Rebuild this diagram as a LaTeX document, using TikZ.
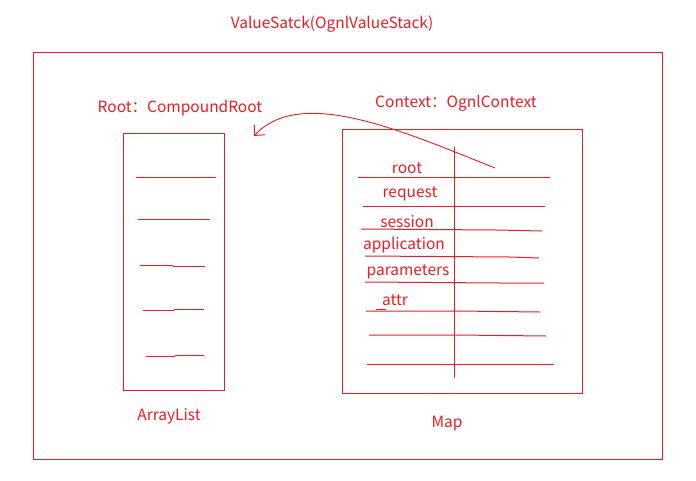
\documentclass[tikz,border=0pt]{standalone}
\usepackage{fontspec}
\setmainfont{Noto Sans CJK SC}
\usetikzlibrary{arrows.meta}
\definecolor{pred}{RGB}{237,28,36}
\begin{document}
\begin{tikzpicture}[x=1pt,y=-1pt,
  every node/.style={text=pred,font=\fontsize{15.5}{18}\selectfont,inner sep=0pt},
  frame/.style={draw=pred,line width=1pt},
  rowline/.style={draw=pred,line width=1pt},
  lbl/.style={anchor=center,yshift=-2pt}]
\useasboundingbox (0,0) rectangle (696,480);
% outer frame
\draw[frame] (33,52) rectangle (662,459);
\node[lbl] (title) at (332,22) {ValueSatck(OgnlValueStack)};
% left box
\draw[frame] (123,133) rectangle (224,390);
\node[lbl] (rootlbl) at (180,106) {Root：CompoundRoot};
\node[lbl] (arr) at (169,414) {ArrayList};
\draw[rowline] (136,177) -- (216,177);
\draw[rowline] (138,219) -- (210,219);
\draw[rowline] (140,265) -- (173,265) (173,266) -- (205,266);
\draw[rowline] (143,310) -- (174,310) (174,309) -- (204,309);
\draw[rowline] (146,356) -- (175,356) (175,355) -- (204,355);
% right box
\draw[frame] (342,129) rectangle (582,393);
\node[lbl] (ctxlbl) at (456,101) {Context：OgnlContext};
\node[lbl] (map) at (447,422) {Map};
\draw[rowline] (454,147) -- (454,378);
\node[lbl] (kroot) at (407,166) {root};
\node[lbl] (kreq) at (410,192) {request};
\node[lbl] (kses) at (407,220) {session};
\node[lbl] (kapp) at (404,243) {application};
\node[lbl] (kpar) at (408,270) {parameters};
\node[lbl] (kattr) at (395,298) {attr};
\draw[rowline] (358,177) -- (550,177);
\draw[rowline] (363,206) -- (545,206);
\draw[rowline] (361,229) -- (497,230) -- (542,231);
\draw[rowline] (365,256) -- (510,257) -- (539,258);
\draw[rowline] (365,282) -- (500,283) -- (544,283);
\draw[rowline] (366,311) -- (457,311) -- (540,312);
\draw[rowline] (376,309.5) -- (386,309.5);
\draw[rowline] (369,335) -- (457,335) -- (546,336);
\draw[rowline] (367,364) -- (554,364);
% curved arrow
\coordinate (cstart) at (495,168);
\coordinate (cend) at (254,136);
\draw[draw=pred,line width=0.9pt,-{Straight Barb[length=8pt,width=15pt]}]
  (cstart) .. controls (400,130) and (300,86) .. (cend);
\end{tikzpicture}
\end{document}
